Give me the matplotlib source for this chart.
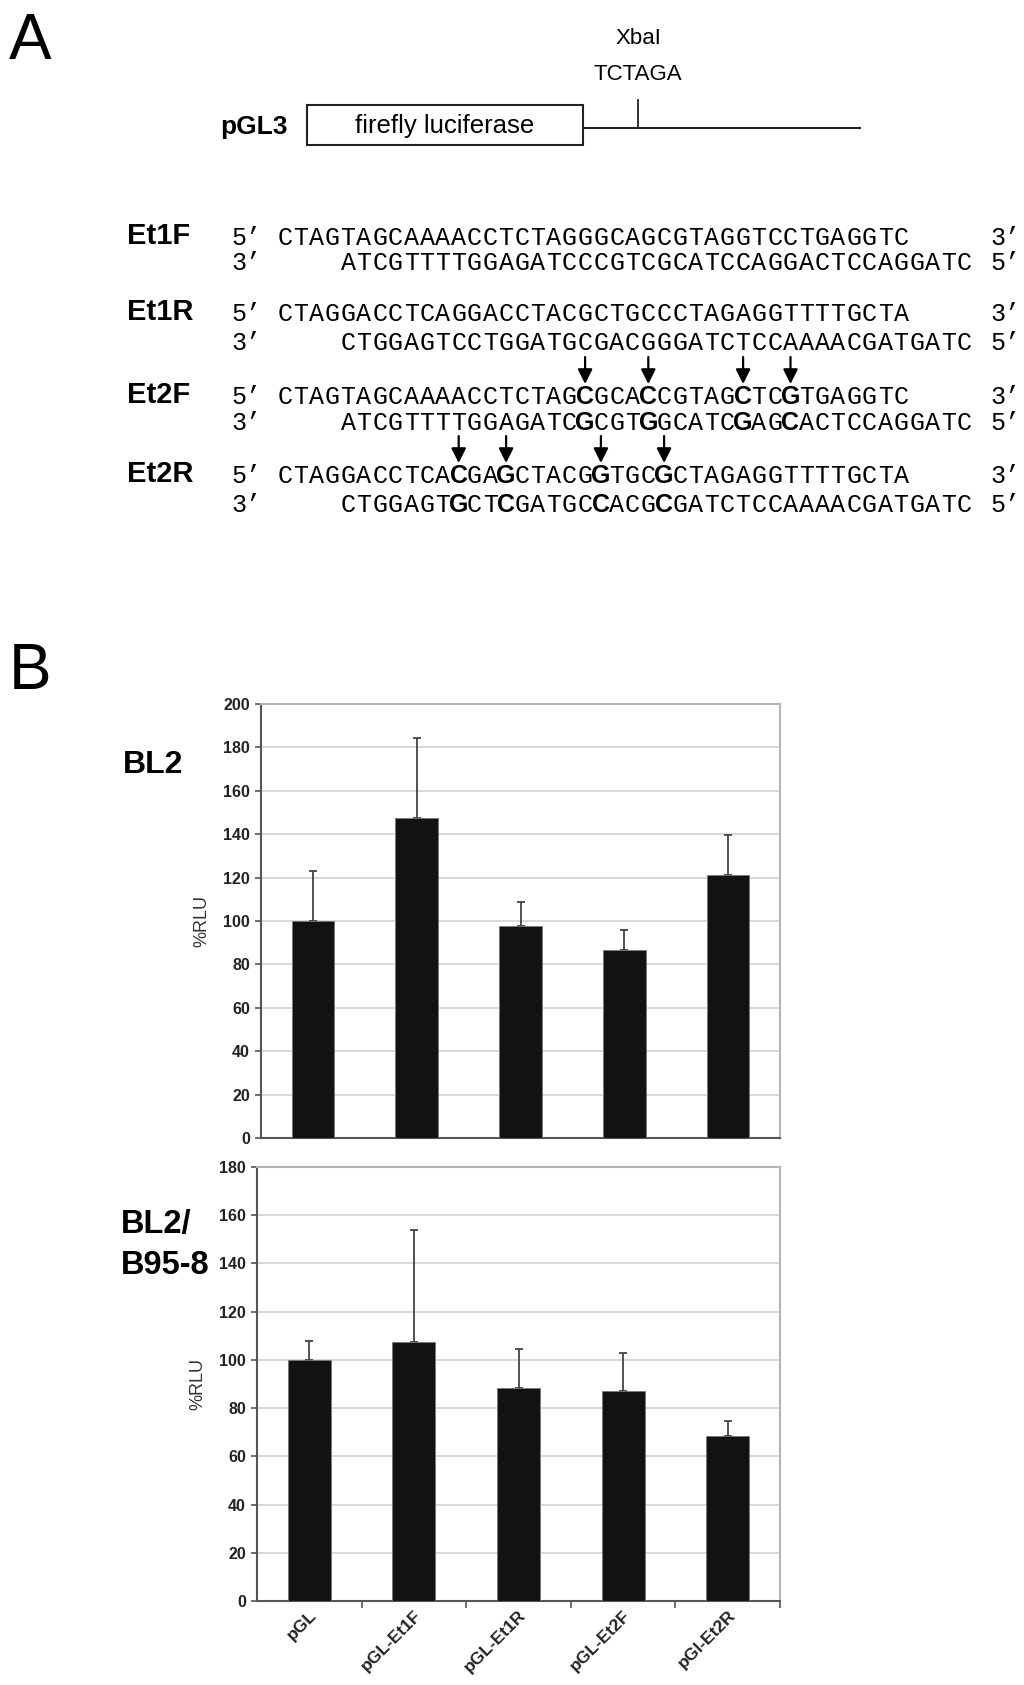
import matplotlib
matplotlib.use("Agg")
import matplotlib.pyplot as plt
from matplotlib.patches import Rectangle
import numpy as np

plt.rcParams['font.family'] = ['Liberation Sans', 'DejaVu Sans']

# Daten Teil B (Luciferase-Assay)
categories = ["pGL", "pGL-Et1F", "pGL-Et1R", "pGL-Et2F", "pGl-Et2R"]
bl2_vals = [100, 147.5, 97.7, 86.5, 121.0]
bl2_err = [23.1, 36.7, 11.2, 9.5, 18.6]
b958_vals = [100, 107.4, 88.2, 87.3, 68.5]
b958_err = [7.8, 46.3, 16.3, 15.5, 6.0]

# Oligos Teil A
oligo_names = ["Et1F", "Et1R", "Et2F", "Et2R"]
top_strands = ["CTAGTAGCAAAACCTCTAGGGCAGCGTAGGTCCTGAGGTC",
               "CTAGGACCTCAGGACCTACGCTGCCCTAGAGGTTTTGCTA",
               "CTAGTAGCAAAACCTCTAGCGCACCGTAGCTCGTGAGGTC",
               "CTAGGACCTCACGAGCTACGGTGCGCTAGAGGTTTTGCTA"]
bottom_strands = ["ATCGTTTTGGAGATCCCGTCGCATCCAGGACTCCAGGATC",
                  "CTGGAGTCCTGGATGCGACGGGATCTCCAAAACGATGATC",
                  "ATCGTTTTGGAGATCGCGTGGCATCGAGCACTCCAGGATC",
                  "CTGGAGTGCTCGATGCCACGCGATCTCCAAAACGATGATC"]
bold_top = [[], [], [19, 23, 29, 32], [11, 14, 20, 24]]
bold_bottom = [[], [], [15, 19, 25, 28], [7, 10, 16, 20]]
bottom_offset = 4

W, H = 1024, 1685
fig = plt.figure(figsize=(W / 100, H / 100), dpi=100)

# Overlay in Pixelkoordinaten
ov = fig.add_axes([0, 0, 1, 1])
ov.set_xlim(0, W)
ov.set_ylim(H, 0)
ov.axis('off')

ov.text(9, 42, "A", fontsize=46, ha='left', va='center')
ov.text(9, 672, "B", fontsize=46, ha='left', va='center')

# pGL3 Schema
ov.add_patch(Rectangle((307, 105), 276, 40, fill=False, lw=1.5, ec='#222222'))
ov.plot([583, 860], [128, 128], color='#222222', lw=1.5)
ov.plot([638, 638], [100, 128], color='#222222', lw=1.3)
ov.text(445, 126, "firefly luciferase", fontsize=18.5, ha='center', va='center')
ov.text(288, 127, "pGL3", fontsize=19, fontweight='bold', ha='right', va='center')
ov.text(638, 38, "XbaI", fontsize=16, ha='center', va='center')
ov.text(638, 75, "TCTAGA", fontsize=16, ha='center', va='center')

# Sequenzen
x0, pitch = 277, 15.8
top_y = [238, 314, 397, 476]
bot_y = [263, 343, 423, 505]
mono = ['Liberation Mono', 'DejaVu Sans Mono']
for k, name in enumerate(oligo_names):
    ov.text(127, top_y[k] - 2, name, fontsize=21, fontweight='bold', ha='left', va='center')
    ov.text(231, top_y[k], "5’", family=mono, fontsize=18, ha='left', va='center')
    ov.text(231, bot_y[k], "3’", family=mono, fontsize=18, ha='left', va='center')
    ov.text(990, top_y[k], "3’", family=mono, fontsize=18, ha='left', va='center')
    ov.text(990, bot_y[k], "5’", family=mono, fontsize=18, ha='left', va='center')
    for i, c in enumerate(top_strands[k]):
        xc = x0 + (i + 0.5) * pitch
        if i in bold_top[k]:
            ov.text(xc, top_y[k], c, fontsize=18, fontweight='bold', ha='center', va='center')
            ov.annotate('', xy=(xc, top_y[k] - 13), xytext=(xc, top_y[k] - 40),
                        arrowprops=dict(arrowstyle='-|>', color='black', lw=1.6,
                                        mutation_scale=22, shrinkA=0, shrinkB=0))
        else:
            ov.text(xc, top_y[k], c, family=mono, fontsize=18, ha='center', va='center')
    for i, c in enumerate(bottom_strands[k]):
        xc = x0 + (i + bottom_offset + 0.5) * pitch
        if i in bold_bottom[k]:
            ov.text(xc, bot_y[k], c, fontsize=18, fontweight='bold', ha='center', va='center')
        else:
            ov.text(xc, bot_y[k], c, family=mono, fontsize=18, ha='center', va='center')


def bar_panel(rect, vals, errs, ymax, show_labels):
    l, t, r, b = rect
    ax = fig.add_axes([l / W, 1 - b / H, (r - l) / W, (b - t) / H])
    x = np.arange(len(categories))
    ax.bar(x, vals, width=0.41, color='#121212', edgecolor='#777777', lw=0.6, zorder=3)
    ax.errorbar(x, vals, yerr=[np.zeros(len(errs)), errs], fmt='none',
                ecolor='#444444', elinewidth=1.3, capsize=3, capthick=1.3, zorder=2)
    ax.set_xlim(-0.5, len(categories) - 0.5)
    ax.set_ylim(0, ymax)
    ax.set_yticks(np.arange(0, ymax + 1, 20))
    ax.yaxis.grid(True, color='#d2d2d2', lw=1.2)
    ax.set_axisbelow(True)
    for s in ['top', 'right']:
        ax.spines[s].set_color('#b5b5b5')
        ax.spines[s].set_linewidth(1.5)
    for s in ['left', 'bottom']:
        ax.spines[s].set_color('#555555')
        ax.spines[s].set_linewidth(1.5)
    ax.tick_params(axis='y', length=4, width=1.2, color='#555555', labelsize=11.5, pad=4)
    for lab in ax.get_yticklabels():
        lab.set_fontweight('bold')
        lab.set_color('#222222')
    ax.set_ylabel("%RLU", fontsize=13, color='#333333', labelpad=9)
    ax.set_xticks(x)
    if show_labels:
        ax.set_xticks(np.arange(0.5, len(categories)), minor=True)
        ax.tick_params(axis='x', which='minor', length=5, width=1.2, color='#555555')
        ax.tick_params(axis='x', which='major', length=0, pad=5)
        ax.set_xticklabels(categories, rotation=45, ha='right', rotation_mode='anchor',
                           fontsize=12.5, fontweight='bold', color='#222222')
    else:
        ax.tick_params(axis='x', length=0, labelbottom=False)
    return ax


bar_panel((261, 704, 780, 1138), bl2_vals, bl2_err, 200, False)
bar_panel((257, 1167, 780, 1601), b958_vals, b958_err, 180, True)

ov.text(123, 765, "BL2", fontsize=23, fontweight='bold', ha='left', va='center')
ov.text(121, 1245, "BL2/\nB95-8", fontsize=23.5, fontweight='bold', ha='left', va='center',
        linespacing=1.4)

fig.savefig("out.png", dpi=100)
